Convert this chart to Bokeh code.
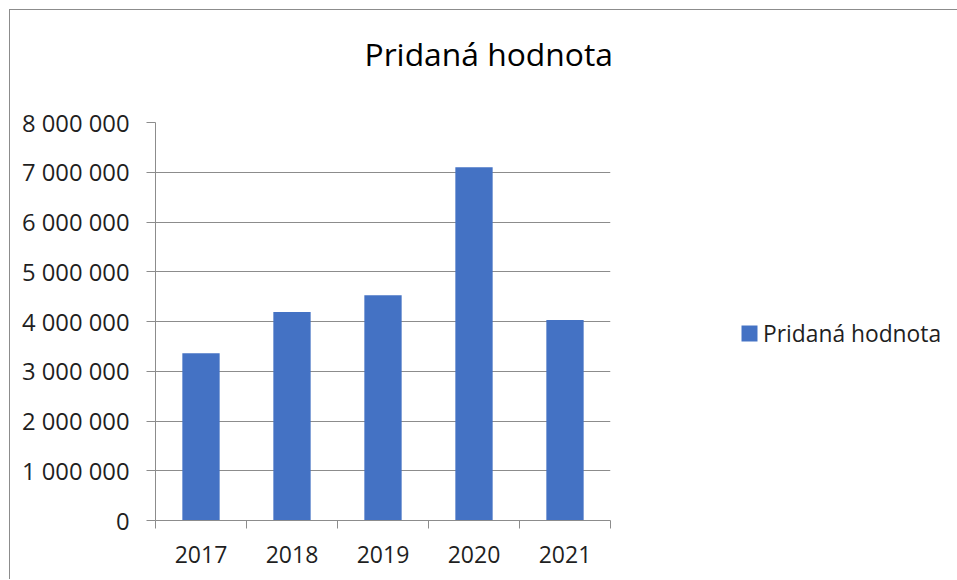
from bokeh.plotting import figure
from bokeh.models import FixedTicker, Legend, LegendItem, ColumnDataSource, Range1d, Title
from bokeh.embed import file_html
from bokeh.resources import INLINE

# ---- data ----
years = ["2017", "2018", "2019", "2020", "2021"]
values = [3360000, 4190000, 4530000, 7100000, 4030000]
series_name = "Pridaná hodnota"
chart_title = "Pridaná hodnota"
y_ticks = [0, 1000000, 2000000, 3000000, 4000000, 5000000, 6000000, 7000000, 8000000]
y_tick_labels = ["0", "1 000 000", "2 000 000", "3 000 000", "4 000 000",
                 "5 000 000", "6 000 000", "7 000 000", "8 000 000"]

FONT = "Open Sans"
TXT = "#1f1f1f"
GRID = "#8c8c8c"
BAR = "#4472C4"

xs = list(range(1, len(years) + 1))
src = ColumnDataSource(dict(x=xs, top=values, year=years))

p = figure(frame_width=455, frame_height=398, output_backend="svg", toolbar_location=None,
           x_range=Range1d(0.5, len(years) + 0.5), y_range=Range1d(0, y_ticks[-1]),
           min_border_left=145, min_border_right=0, min_border_top=112,
           min_border_bottom=59)
p.styles = {"margin": "9px 0 0 9px",
            "border-top": "1px solid #8c8c8c", "border-left": "1px solid #8c8c8c"}
p.outline_line_color = None
p.background_fill_color = "white"
p.border_fill_color = "white"

r = p.vbar(x="x", top="top", width=0.41, bottom=0, source=src,
           fill_color=BAR, line_color=None)

# title (with an invisible spacer between it and the plot area)
spacer = Title(text=" ", text_font_size="1px", standoff=40)
p.add_layout(spacer, "above")
p.title.text = chart_title
p.title.text_font = FONT
p.title.text_font_size = "31.8px"
p.title.text_font_style = "normal"
p.title.text_color = "#000000"
p.title.align = "left"
p.title.offset = 209

# x axis
xa = p.xaxis[0]
xa.ticker = FixedTicker(ticks=xs, minor_ticks=[x - 0.5 for x in xs] + [xs[-1] + 0.5])
xa.major_label_overrides = {x: y for x, y in zip(xs, years)}
xa.major_tick_line_color = None
xa.major_tick_out = 0
xa.major_tick_in = 0
xa.minor_tick_out = 8
xa.minor_tick_in = 0
xa.minor_tick_line_color = GRID
xa.axis_line_color = GRID
xa.major_label_text_font = FONT
xa.major_label_text_font_size = "23px"
xa.major_label_text_color = TXT
xa.major_label_standoff = 17

# y axis
ya = p.yaxis[0]
ya.ticker = FixedTicker(ticks=y_ticks)
ya.major_label_overrides = {t: l for t, l in zip(y_ticks, y_tick_labels)}
ya.major_tick_out = 9
ya.major_tick_in = 0
ya.minor_tick_line_color = None
ya.major_tick_line_color = GRID
ya.axis_line_color = GRID
ya.major_label_text_font = FONT
ya.major_label_text_font_size = "23.8px"
ya.major_label_text_color = TXT
ya.major_label_standoff = 17

p.xgrid.grid_line_color = None
p.ygrid.grid_line_color = GRID
p.ygrid.grid_line_width = 1

legend = Legend(items=[LegendItem(label=series_name, renderers=[r])],
                location=(129, 171.5), border_line_color=None,
                background_fill_alpha=0, padding=0, spacing=0, margin=0,
                glyph_width=20, glyph_height=20, label_standoff=4,
                label_text_font=FONT, label_text_font_size="22.8px",
                label_text_color=TXT)
p.add_layout(legend, "right")

open("out.html", "w").write(file_html(p, INLINE))
